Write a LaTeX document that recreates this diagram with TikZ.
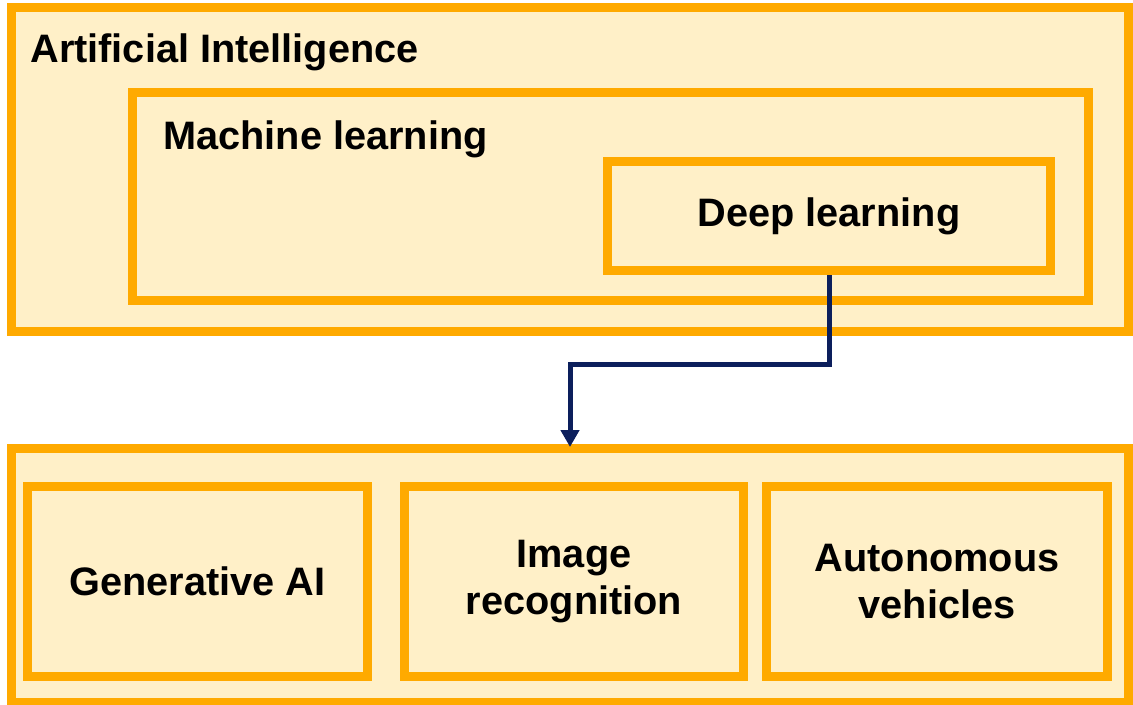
\documentclass[tikz,border=0pt]{standalone}
\usepackage{fontspec}
\setmainfont{Liberation Sans}
\usetikzlibrary{arrows.meta}

\definecolor{boxorange}{HTML}{FFAA00}
\definecolor{boxfill}{HTML}{FFF0C8}
\definecolor{arrownavy}{HTML}{0C1F5C}

\tikzset{
  box/.style={draw=boxorange, fill=boxfill, line width=0.18cm, inner sep=0pt,
              font=\fontsize{22.6}{26.5}\selectfont\bfseries, align=center},
  title/.style={font=\fontsize{22.6}{26.5}\selectfont\bfseries, anchor=base west, inner sep=0pt},
  flow/.style={draw=arrownavy, line width=0.1cm, -{Triangle[length=0.34cm,width=0.36cm]}}
}

\begin{document}
\begin{tikzpicture}[x=0.02cm, y=-0.02cm]
  \useasboundingbox (0,0) rectangle (1133,705);
  % upper nest
  \node[box, minimum width=22.36cm, minimum height=6.49cm] (ai) at (570,169.75) {};
  \node[title] (ailabel) at (30,63) {Artificial Intelligence};
  \node[box, minimum width=19.14cm, minimum height=4.18cm] (ml) at (610.5,196.5) {};
  \node[title] (mllabel) at (163,150) {Machine learning};
  \node[box, minimum width=8.88cm, minimum height=2.2cm] (dl) at (829,216) {Deep learning};
  % lower group
  \node[box, minimum width=22.36cm, minimum height=5.1cm] (apps) at (570,575.5) {};
  \node[box, minimum width=6.82cm, minimum height=3.82cm] (gen) at (197.5,581.5) {Generative AI};
  \node[box, minimum width=6.8cm, minimum height=3.82cm] (img) at (574,581.5) {Image\\recognition};
  \node[box, minimum width=6.83cm, minimum height=3.82cm] (auto) at (937,581.5) {Autonomous\\vehicles};
  % connector
  \draw[flow] (dl.south) -- ++(0,89) -| ([yshift=-2pt]apps.north);
\end{tikzpicture}
\end{document}
